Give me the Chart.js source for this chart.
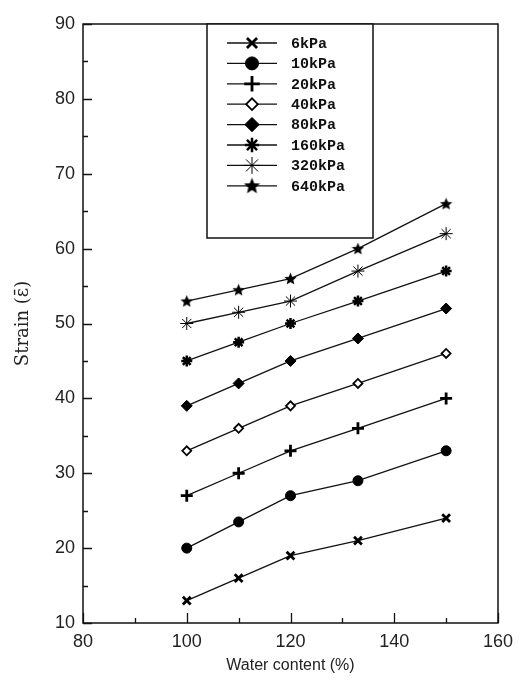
<!DOCTYPE html>
<html>
<head>
<meta charset="utf-8">
<script src="https://cdn.jsdelivr.net/npm/chart.js@4.4.1/dist/chart.umd.min.js"></script>
<style>
  html, body { margin: 0; padding: 0; background: #fff; }
  #wrap { width: 523px; height: 684px; }
</style>
</head>
<body>
<div id="wrap"><canvas id="myChart" width="523" height="684"></canvas></div>
<script>
// water content (%) where strain was measured
var waterContent = [100, 110, 120, 133, 150];

// strain per confining pressure
var strain6kPa   = [13, 16, 19, 21, 24];
var strain10kPa  = [20, 23.5, 27, 29, 33];
var strain20kPa  = [27, 30, 33, 36, 40];
var strain40kPa  = [33, 36, 39, 42, 46];
var strain80kPa  = [39, 42, 45, 48, 52];
var strain160kPa = [45, 47.5, 50, 53, 57];
var strain320kPa = [50, 51.5, 53, 57, 62];
var strain640kPa = [53, 54.5, 56, 60, 66];

var xTicks = [80, 100, 120, 140, 160];
var yTicks = [10, 20, 30, 40, 50, 60, 70, 80, 90];

// filled five point star used as a point style
function makeStar(size) {
    var c = document.createElement('canvas');
    c.width = size;
    c.height = size;
    var g = c.getContext('2d');
    var cx = size / 2, cy = size / 2 + 0.5;
    var outer = size / 2, inner = outer * 0.45;
    g.beginPath();
    for (var i = 0; i < 10; i++) {
        var r = i % 2 === 0 ? outer : inner;
        var a = -Math.PI / 2 + i * Math.PI / 5;
        var px = cx + r * Math.cos(a), py = cy + r * Math.sin(a);
        if (i === 0) g.moveTo(px, py); else g.lineTo(px, py);
    }
    g.closePath();
    g.fillStyle = '#000';
    g.fill();
    return c;
}

var starSmall = makeStar(13);
var starBig = makeStar(17);

function series(label, values, style) {
    var ds = {
        label: label,
        data: waterContent.map(function (w, i) { return {x: w, y: values[i]}; }),
        borderColor: '#111',
        backgroundColor: '#000',
        borderWidth: 1.3,
        pointBorderColor: '#000',
        pointBackgroundColor: '#000',
        tension: 0
    };
    for (var k in style) ds[k] = style[k];
    return ds;
}

var datasets = [
    series('6kPa', strain6kPa, {pointStyle: 'crossRot', pointRadius: 5.5, pointBorderWidth: 2.8}),
    series('10kPa', strain10kPa, {pointStyle: 'circle', pointRadius: 5, pointBorderWidth: 1}),
    series('20kPa', strain20kPa, {pointStyle: 'cross', pointRadius: 6, pointBorderWidth: 2.8}),
    series('40kPa', strain40kPa, {pointStyle: 'rectRot', pointRadius: 4.5, pointBorderWidth: 1.8, pointBackgroundColor: '#fff'}),
    series('80kPa', strain80kPa, {pointStyle: 'rectRot', pointRadius: 5.5, pointBorderWidth: 1}),
    series('160kPa', strain160kPa, {pointStyle: 'star', pointRadius: 5.5, pointBorderWidth: 2.5}),
    series('320kPa', strain320kPa, {pointStyle: 'star', pointRadius: 6.5, pointBorderWidth: 1}),
    series('640kPa', strain640kPa, {pointStyle: starSmall, pointRadius: 6.5})
];

// box around the plot plus inward tick marks
var frameTicks = {
    id: 'frameTicks',
    afterDraw: function (chart) {
        var ctx = chart.ctx, a = chart.chartArea;
        var xs = chart.scales.x, ys = chart.scales.y;
        ctx.save();
        ctx.strokeStyle = '#111';
        ctx.lineWidth = 1.5;
        ctx.strokeRect(a.left, a.top, a.right - a.left, a.bottom - a.top);
        ctx.lineWidth = 1.3;
        ctx.beginPath();
        ys.ticks.forEach(function (t) {
            var y = Math.round(ys.getPixelForValue(t.value)) + 0.5;
            var len = t.value % 10 === 0 ? 9 : 5;
            ctx.moveTo(a.left, y);
            ctx.lineTo(a.left + len, y);
        });
        xs.ticks.forEach(function (t) {
            var x = Math.round(xs.getPixelForValue(t.value)) + 0.5;
            var len = t.value % 20 === 0 ? 10 : 5;
            ctx.moveTo(x, a.bottom);
            ctx.lineTo(x, a.bottom - len);
        });
        ctx.stroke();
        ctx.restore();
    }
};

// legend box drawn inside the plot area
var boxLegend = {
    id: 'boxLegend',
    afterDraw: function (chart) {
        var ctx = chart.ctx, a = chart.chartArea;
        var left = a.left + 124, top = a.top, right = a.left + 290, bottom = a.top + 214;
        ctx.save();
        ctx.fillStyle = '#fff';
        ctx.fillRect(left, top, right - left, bottom - top);
        ctx.strokeStyle = '#111';
        ctx.lineWidth = 1.5;
        ctx.strokeRect(left, top, right - left, bottom - top);
        ctx.font = 'bold 15px "Liberation Mono"';
        ctx.textBaseline = 'middle';
        chart.data.datasets.forEach(function (ds, i) {
            var y = top + 19 + i * 20.4;
            ctx.strokeStyle = '#111';
            ctx.lineWidth = 1.3;
            ctx.beginPath();
            ctx.moveTo(left + 20, y);
            ctx.lineTo(left + 70, y);
            ctx.stroke();
            ctx.strokeStyle = '#000';
            ctx.fillStyle = ds.pointBackgroundColor;
            ctx.lineWidth = ds.pointBorderWidth || 1;
            var style = typeof ds.pointStyle === 'string' ? ds.pointStyle : starBig;
            Chart.helpers.drawPoint(ctx, {
                pointStyle: style,
                radius: (ds.pointRadius || 5) * 1.3,
                rotation: 0,
                borderWidth: ds.pointBorderWidth || 1
            }, left + 45, y);
            ctx.fillStyle = '#111';
            ctx.fillText(ds.label, left + 84, y + 1);
        });
        ctx.restore();
    }
};

var ctx = document.getElementById('myChart').getContext('2d');
var myChart = new Chart(ctx, {
    type: 'line',
    data: {datasets: datasets},
    options: {
        responsive: false,
        devicePixelRatio: 1,
        animation: false,
        events: [],
        layout: {padding: {top: 24, right: 25, left: 0, bottom: 0}},
        plugins: {legend: {display: false}, tooltip: {enabled: false}},
        scales: {
            x: {
                type: 'linear',
                min: 80,
                max: 160,
                grid: {display: false, drawTicks: false},
                border: {display: false},
                ticks: {
                    stepSize: 10,
                    autoSkip: false,
                    maxRotation: 0,
                    padding: 8,
                    color: '#222',
                    font: {family: 'Liberation Sans', size: 18},
                    callback: function (v) { return xTicks.indexOf(v) >= 0 ? v : ''; }
                },
                title: {
                    display: true,
                    text: 'Water content (%)',
                    color: '#222',
                    font: {family: 'Liberation Sans', size: 16},
                    padding: {top: 0, bottom: 9}
                },
                afterFit: function (s) { s.height = 61; }
            },
            y: {
                min: 10,
                max: 90,
                grid: {display: false, drawTicks: false},
                border: {display: false},
                ticks: {
                    stepSize: 5,
                    autoSkip: false,
                    padding: 8,
                    color: '#222',
                    font: {family: 'Liberation Sans', size: 18},
                    callback: function (v) { return yTicks.indexOf(v) >= 0 ? v : ''; }
                },
                title: {
                    display: true,
                    text: 'Strain (\u03B5\u0304)',
                    color: '#222',
                    font: {family: 'DejaVu Serif', size: 18},
                    padding: {top: 13, bottom: 0}
                },
                afterFit: function (s) { s.width = 83; }
            }
        }
    },
    plugins: [frameTicks, boxLegend]
});
</script>
</body>
</html>
